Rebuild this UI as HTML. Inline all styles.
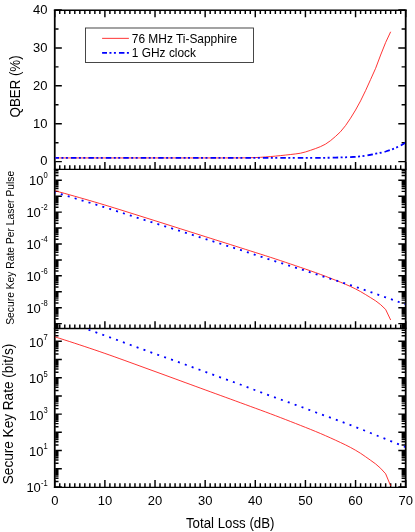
<!DOCTYPE html>
<html><head><meta charset="utf-8"><title>QKD key rate vs loss</title>
<style>
html,body{margin:0;padding:0;background:#fff;}
body{width:415px;height:532px;overflow:hidden;font-family:"Liberation Sans",sans-serif;}
svg{display:block;will-change:transform;}
</style></head><body>
<svg width="415" height="532" viewBox="0 0 415 532">
<path d="M54.75 10.60L54.75 17.15M59.76 10.60L59.76 13.90M64.78 10.60L64.78 13.90M69.79 10.60L69.79 13.90M74.80 10.60L74.80 13.90M79.82 10.60L79.82 13.90M84.83 10.60L84.83 13.90M89.84 10.60L89.84 13.90M94.86 10.60L94.86 13.90M99.87 10.60L99.87 13.90M104.89 10.60L104.89 17.15M109.90 10.60L109.90 13.90M114.91 10.60L114.91 13.90M119.93 10.60L119.93 13.90M124.94 10.60L124.94 13.90M129.95 10.60L129.95 13.90M134.97 10.60L134.97 13.90M139.98 10.60L139.98 13.90M144.99 10.60L144.99 13.90M150.01 10.60L150.01 13.90M155.02 10.60L155.02 17.15M160.04 10.60L160.04 13.90M165.05 10.60L165.05 13.90M170.06 10.60L170.06 13.90M175.08 10.60L175.08 13.90M180.09 10.60L180.09 13.90M185.10 10.60L185.10 13.90M190.12 10.60L190.12 13.90M195.13 10.60L195.13 13.90M200.14 10.60L200.14 13.90M205.16 10.60L205.16 17.15M210.17 10.60L210.17 13.90M215.18 10.60L215.18 13.90M220.20 10.60L220.20 13.90M225.21 10.60L225.21 13.90M230.22 10.60L230.22 13.90M235.24 10.60L235.24 13.90M240.25 10.60L240.25 13.90M245.27 10.60L245.27 13.90M250.28 10.60L250.28 13.90M255.29 10.60L255.29 17.15M260.31 10.60L260.31 13.90M265.32 10.60L265.32 13.90M270.33 10.60L270.33 13.90M275.35 10.60L275.35 13.90M280.36 10.60L280.36 13.90M285.37 10.60L285.37 13.90M290.39 10.60L290.39 13.90M295.40 10.60L295.40 13.90M300.42 10.60L300.42 13.90M305.43 10.60L305.43 17.15M310.44 10.60L310.44 13.90M315.46 10.60L315.46 13.90M320.47 10.60L320.47 13.90M325.48 10.60L325.48 13.90M330.50 10.60L330.50 13.90M335.51 10.60L335.51 13.90M340.52 10.60L340.52 13.90M345.54 10.60L345.54 13.90M350.55 10.60L350.55 13.90M355.56 10.60L355.56 17.15M360.58 10.60L360.58 13.90M365.59 10.60L365.59 13.90M370.61 10.60L370.61 13.90M375.62 10.60L375.62 13.90M380.63 10.60L380.63 13.90M385.65 10.60L385.65 13.90M390.66 10.60L390.66 13.90M395.67 10.60L395.67 13.90M400.69 10.60L400.69 13.90M405.70 10.60L405.70 17.15M54.75 169.10L54.75 162.10M59.76 169.10L59.76 165.30M64.78 169.10L64.78 165.30M69.79 169.10L69.79 165.30M74.80 169.10L74.80 165.30M79.82 169.10L79.82 165.30M84.83 169.10L84.83 165.30M89.84 169.10L89.84 165.30M94.86 169.10L94.86 165.30M99.87 169.10L99.87 165.30M104.89 169.10L104.89 162.10M109.90 169.10L109.90 165.30M114.91 169.10L114.91 165.30M119.93 169.10L119.93 165.30M124.94 169.10L124.94 165.30M129.95 169.10L129.95 165.30M134.97 169.10L134.97 165.30M139.98 169.10L139.98 165.30M144.99 169.10L144.99 165.30M150.01 169.10L150.01 165.30M155.02 169.10L155.02 162.10M160.04 169.10L160.04 165.30M165.05 169.10L165.05 165.30M170.06 169.10L170.06 165.30M175.08 169.10L175.08 165.30M180.09 169.10L180.09 165.30M185.10 169.10L185.10 165.30M190.12 169.10L190.12 165.30M195.13 169.10L195.13 165.30M200.14 169.10L200.14 165.30M205.16 169.10L205.16 162.10M210.17 169.10L210.17 165.30M215.18 169.10L215.18 165.30M220.20 169.10L220.20 165.30M225.21 169.10L225.21 165.30M230.22 169.10L230.22 165.30M235.24 169.10L235.24 165.30M240.25 169.10L240.25 165.30M245.27 169.10L245.27 165.30M250.28 169.10L250.28 165.30M255.29 169.10L255.29 162.10M260.31 169.10L260.31 165.30M265.32 169.10L265.32 165.30M270.33 169.10L270.33 165.30M275.35 169.10L275.35 165.30M280.36 169.10L280.36 165.30M285.37 169.10L285.37 165.30M290.39 169.10L290.39 165.30M295.40 169.10L295.40 165.30M300.42 169.10L300.42 165.30M305.43 169.10L305.43 162.10M310.44 169.10L310.44 165.30M315.46 169.10L315.46 165.30M320.47 169.10L320.47 165.30M325.48 169.10L325.48 165.30M330.50 169.10L330.50 165.30M335.51 169.10L335.51 165.30M340.52 169.10L340.52 165.30M345.54 169.10L345.54 165.30M350.55 169.10L350.55 165.30M355.56 169.10L355.56 162.10M360.58 169.10L360.58 165.30M365.59 169.10L365.59 165.30M370.61 169.10L370.61 165.30M375.62 169.10L375.62 165.30M380.63 169.10L380.63 165.30M385.65 169.10L385.65 165.30M390.66 169.10L390.66 165.30M395.67 169.10L395.67 165.30M400.69 169.10L400.69 165.30M405.70 169.10L405.70 162.10M54.75 328.20L54.75 321.20M59.76 328.20L59.76 324.40M64.78 328.20L64.78 324.40M69.79 328.20L69.79 324.40M74.80 328.20L74.80 324.40M79.82 328.20L79.82 324.40M84.83 328.20L84.83 324.40M89.84 328.20L89.84 324.40M94.86 328.20L94.86 324.40M99.87 328.20L99.87 324.40M104.89 328.20L104.89 321.20M109.90 328.20L109.90 324.40M114.91 328.20L114.91 324.40M119.93 328.20L119.93 324.40M124.94 328.20L124.94 324.40M129.95 328.20L129.95 324.40M134.97 328.20L134.97 324.40M139.98 328.20L139.98 324.40M144.99 328.20L144.99 324.40M150.01 328.20L150.01 324.40M155.02 328.20L155.02 321.20M160.04 328.20L160.04 324.40M165.05 328.20L165.05 324.40M170.06 328.20L170.06 324.40M175.08 328.20L175.08 324.40M180.09 328.20L180.09 324.40M185.10 328.20L185.10 324.40M190.12 328.20L190.12 324.40M195.13 328.20L195.13 324.40M200.14 328.20L200.14 324.40M205.16 328.20L205.16 321.20M210.17 328.20L210.17 324.40M215.18 328.20L215.18 324.40M220.20 328.20L220.20 324.40M225.21 328.20L225.21 324.40M230.22 328.20L230.22 324.40M235.24 328.20L235.24 324.40M240.25 328.20L240.25 324.40M245.27 328.20L245.27 324.40M250.28 328.20L250.28 324.40M255.29 328.20L255.29 321.20M260.31 328.20L260.31 324.40M265.32 328.20L265.32 324.40M270.33 328.20L270.33 324.40M275.35 328.20L275.35 324.40M280.36 328.20L280.36 324.40M285.37 328.20L285.37 324.40M290.39 328.20L290.39 324.40M295.40 328.20L295.40 324.40M300.42 328.20L300.42 324.40M305.43 328.20L305.43 321.20M310.44 328.20L310.44 324.40M315.46 328.20L315.46 324.40M320.47 328.20L320.47 324.40M325.48 328.20L325.48 324.40M330.50 328.20L330.50 324.40M335.51 328.20L335.51 324.40M340.52 328.20L340.52 324.40M345.54 328.20L345.54 324.40M350.55 328.20L350.55 324.40M355.56 328.20L355.56 321.20M360.58 328.20L360.58 324.40M365.59 328.20L365.59 324.40M370.61 328.20L370.61 324.40M375.62 328.20L375.62 324.40M380.63 328.20L380.63 324.40M385.65 328.20L385.65 324.40M390.66 328.20L390.66 324.40M395.67 328.20L395.67 324.40M400.69 328.20L400.69 324.40M405.70 328.20L405.70 321.20M54.75 487.10L54.75 480.10M59.76 487.10L59.76 483.30M64.78 487.10L64.78 483.30M69.79 487.10L69.79 483.30M74.80 487.10L74.80 483.30M79.82 487.10L79.82 483.30M84.83 487.10L84.83 483.30M89.84 487.10L89.84 483.30M94.86 487.10L94.86 483.30M99.87 487.10L99.87 483.30M104.89 487.10L104.89 480.10M109.90 487.10L109.90 483.30M114.91 487.10L114.91 483.30M119.93 487.10L119.93 483.30M124.94 487.10L124.94 483.30M129.95 487.10L129.95 483.30M134.97 487.10L134.97 483.30M139.98 487.10L139.98 483.30M144.99 487.10L144.99 483.30M150.01 487.10L150.01 483.30M155.02 487.10L155.02 480.10M160.04 487.10L160.04 483.30M165.05 487.10L165.05 483.30M170.06 487.10L170.06 483.30M175.08 487.10L175.08 483.30M180.09 487.10L180.09 483.30M185.10 487.10L185.10 483.30M190.12 487.10L190.12 483.30M195.13 487.10L195.13 483.30M200.14 487.10L200.14 483.30M205.16 487.10L205.16 480.10M210.17 487.10L210.17 483.30M215.18 487.10L215.18 483.30M220.20 487.10L220.20 483.30M225.21 487.10L225.21 483.30M230.22 487.10L230.22 483.30M235.24 487.10L235.24 483.30M240.25 487.10L240.25 483.30M245.27 487.10L245.27 483.30M250.28 487.10L250.28 483.30M255.29 487.10L255.29 480.10M260.31 487.10L260.31 483.30M265.32 487.10L265.32 483.30M270.33 487.10L270.33 483.30M275.35 487.10L275.35 483.30M280.36 487.10L280.36 483.30M285.37 487.10L285.37 483.30M290.39 487.10L290.39 483.30M295.40 487.10L295.40 483.30M300.42 487.10L300.42 483.30M305.43 487.10L305.43 480.10M310.44 487.10L310.44 483.30M315.46 487.10L315.46 483.30M320.47 487.10L320.47 483.30M325.48 487.10L325.48 483.30M330.50 487.10L330.50 483.30M335.51 487.10L335.51 483.30M340.52 487.10L340.52 483.30M345.54 487.10L345.54 483.30M350.55 487.10L350.55 483.30M355.56 487.10L355.56 480.10M360.58 487.10L360.58 483.30M365.59 487.10L365.59 483.30M370.61 487.10L370.61 483.30M375.62 487.10L375.62 483.30M380.63 487.10L380.63 483.30M385.65 487.10L385.65 483.30M390.66 487.10L390.66 483.30M395.67 487.10L395.67 483.30M400.69 487.10L400.69 483.30M405.70 487.10L405.70 480.10M55.23 161.62L61.83 161.62M405.20 161.62L398.30 161.62M55.23 142.67L58.52 142.67M405.20 142.67L401.60 142.67M55.23 123.72L61.83 123.72M405.20 123.72L398.30 123.72M55.23 104.77L58.52 104.77M405.20 104.77L401.60 104.77M55.23 85.82L61.83 85.82M405.20 85.82L398.30 85.82M55.23 66.87L58.52 66.87M405.20 66.87L401.60 66.87M55.23 47.92L61.83 47.92M405.20 47.92L398.30 47.92M55.23 28.97L58.52 28.97M405.20 28.97L401.60 28.97M55.23 10.02L61.83 10.02M405.20 10.02L398.30 10.02M55.23 327.16L58.52 327.16M405.20 327.16L401.60 327.16M55.23 326.10L58.52 326.10M405.20 326.10L401.60 326.10M55.23 325.17L58.52 325.17M405.20 325.17L401.60 325.17M55.23 324.36L58.52 324.36M405.20 324.36L401.60 324.36M55.23 323.63L61.83 323.63M405.20 323.63L398.30 323.63M55.23 318.83L58.52 318.83M405.20 318.83L401.60 318.83M55.23 316.03L58.52 316.03M405.20 316.03L401.60 316.03M55.23 314.04L58.52 314.04M405.20 314.04L401.60 314.04M55.23 312.50L58.52 312.50M405.20 312.50L401.60 312.50M55.23 311.23L58.52 311.23M405.20 311.23L401.60 311.23M55.23 310.17L58.52 310.17M405.20 310.17L401.60 310.17M55.23 309.24L58.52 309.24M405.20 309.24L401.60 309.24M55.23 308.43L58.52 308.43M405.20 308.43L401.60 308.43M55.23 307.70L61.83 307.70M405.20 307.70L398.30 307.70M55.23 302.90L58.52 302.90M405.20 302.90L401.60 302.90M55.23 300.10L58.52 300.10M405.20 300.10L401.60 300.10M55.23 298.11L58.52 298.11M405.20 298.11L401.60 298.11M55.23 296.57L58.52 296.57M405.20 296.57L401.60 296.57M55.23 295.30L58.52 295.30M405.20 295.30L401.60 295.30M55.23 294.24L58.52 294.24M405.20 294.24L401.60 294.24M55.23 293.31L58.52 293.31M405.20 293.31L401.60 293.31M55.23 292.50L58.52 292.50M405.20 292.50L401.60 292.50M55.23 291.77L61.83 291.77M405.20 291.77L398.30 291.77M55.23 286.97L58.52 286.97M405.20 286.97L401.60 286.97M55.23 284.17L58.52 284.17M405.20 284.17L401.60 284.17M55.23 282.18L58.52 282.18M405.20 282.18L401.60 282.18M55.23 280.64L58.52 280.64M405.20 280.64L401.60 280.64M55.23 279.37L58.52 279.37M405.20 279.37L401.60 279.37M55.23 278.31L58.52 278.31M405.20 278.31L401.60 278.31M55.23 277.38L58.52 277.38M405.20 277.38L401.60 277.38M55.23 276.57L58.52 276.57M405.20 276.57L401.60 276.57M55.23 275.84L61.83 275.84M405.20 275.84L398.30 275.84M55.23 271.04L58.52 271.04M405.20 271.04L401.60 271.04M55.23 268.24L58.52 268.24M405.20 268.24L401.60 268.24M55.23 266.25L58.52 266.25M405.20 266.25L401.60 266.25M55.23 264.71L58.52 264.71M405.20 264.71L401.60 264.71M55.23 263.44L58.52 263.44M405.20 263.44L401.60 263.44M55.23 262.38L58.52 262.38M405.20 262.38L401.60 262.38M55.23 261.45L58.52 261.45M405.20 261.45L401.60 261.45M55.23 260.64L58.52 260.64M405.20 260.64L401.60 260.64M55.23 259.91L61.83 259.91M405.20 259.91L398.30 259.91M55.23 255.11L58.52 255.11M405.20 255.11L401.60 255.11M55.23 252.31L58.52 252.31M405.20 252.31L401.60 252.31M55.23 250.32L58.52 250.32M405.20 250.32L401.60 250.32M55.23 248.78L58.52 248.78M405.20 248.78L401.60 248.78M55.23 247.51L58.52 247.51M405.20 247.51L401.60 247.51M55.23 246.45L58.52 246.45M405.20 246.45L401.60 246.45M55.23 245.52L58.52 245.52M405.20 245.52L401.60 245.52M55.23 244.71L58.52 244.71M405.20 244.71L401.60 244.71M55.23 243.98L61.83 243.98M405.20 243.98L398.30 243.98M55.23 239.18L58.52 239.18M405.20 239.18L401.60 239.18M55.23 236.38L58.52 236.38M405.20 236.38L401.60 236.38M55.23 234.39L58.52 234.39M405.20 234.39L401.60 234.39M55.23 232.85L58.52 232.85M405.20 232.85L401.60 232.85M55.23 231.58L58.52 231.58M405.20 231.58L401.60 231.58M55.23 230.52L58.52 230.52M405.20 230.52L401.60 230.52M55.23 229.59L58.52 229.59M405.20 229.59L401.60 229.59M55.23 228.78L58.52 228.78M405.20 228.78L401.60 228.78M55.23 228.05L61.83 228.05M405.20 228.05L398.30 228.05M55.23 223.25L58.52 223.25M405.20 223.25L401.60 223.25M55.23 220.45L58.52 220.45M405.20 220.45L401.60 220.45M55.23 218.46L58.52 218.46M405.20 218.46L401.60 218.46M55.23 216.92L58.52 216.92M405.20 216.92L401.60 216.92M55.23 215.65L58.52 215.65M405.20 215.65L401.60 215.65M55.23 214.59L58.52 214.59M405.20 214.59L401.60 214.59M55.23 213.66L58.52 213.66M405.20 213.66L401.60 213.66M55.23 212.85L58.52 212.85M405.20 212.85L401.60 212.85M55.23 212.12L61.83 212.12M405.20 212.12L398.30 212.12M55.23 207.32L58.52 207.32M405.20 207.32L401.60 207.32M55.23 204.52L58.52 204.52M405.20 204.52L401.60 204.52M55.23 202.53L58.52 202.53M405.20 202.53L401.60 202.53M55.23 200.99L58.52 200.99M405.20 200.99L401.60 200.99M55.23 199.72L58.52 199.72M405.20 199.72L401.60 199.72M55.23 198.66L58.52 198.66M405.20 198.66L401.60 198.66M55.23 197.73L58.52 197.73M405.20 197.73L401.60 197.73M55.23 196.92L58.52 196.92M405.20 196.92L401.60 196.92M55.23 196.19L61.83 196.19M405.20 196.19L398.30 196.19M55.23 191.39L58.52 191.39M405.20 191.39L401.60 191.39M55.23 188.59L58.52 188.59M405.20 188.59L401.60 188.59M55.23 186.60L58.52 186.60M405.20 186.60L401.60 186.60M55.23 185.06L58.52 185.06M405.20 185.06L401.60 185.06M55.23 183.79L58.52 183.79M405.20 183.79L401.60 183.79M55.23 182.73L58.52 182.73M405.20 182.73L401.60 182.73M55.23 181.80L58.52 181.80M405.20 181.80L401.60 181.80M55.23 180.99L58.52 180.99M405.20 180.99L401.60 180.99M55.23 180.26L61.83 180.26M405.20 180.26L398.30 180.26M55.23 175.46L58.52 175.46M405.20 175.46L401.60 175.46M55.23 172.66L58.52 172.66M405.20 172.66L401.60 172.66M55.23 170.67L58.52 170.67M405.20 170.67L401.60 170.67M55.23 486.90L61.83 486.90M405.20 486.90L398.30 486.90M55.23 481.42L58.52 481.42M405.20 481.42L401.60 481.42M55.23 478.22L58.52 478.22M405.20 478.22L401.60 478.22M55.23 475.94L58.52 475.94M405.20 475.94L401.60 475.94M55.23 474.18L58.52 474.18M405.20 474.18L401.60 474.18M55.23 472.74L58.52 472.74M405.20 472.74L401.60 472.74M55.23 471.52L58.52 471.52M405.20 471.52L401.60 471.52M55.23 470.46L58.52 470.46M405.20 470.46L401.60 470.46M55.23 469.53L58.52 469.53M405.20 469.53L401.60 469.53M55.23 468.70L61.83 468.70M405.20 468.70L398.30 468.70M55.23 463.22L58.52 463.22M405.20 463.22L401.60 463.22M55.23 460.02L58.52 460.02M405.20 460.02L401.60 460.02M55.23 457.74L58.52 457.74M405.20 457.74L401.60 457.74M55.23 455.98L58.52 455.98M405.20 455.98L401.60 455.98M55.23 454.54L58.52 454.54M405.20 454.54L401.60 454.54M55.23 453.32L58.52 453.32M405.20 453.32L401.60 453.32M55.23 452.26L58.52 452.26M405.20 452.26L401.60 452.26M55.23 451.33L58.52 451.33M405.20 451.33L401.60 451.33M55.23 450.50L61.83 450.50M405.20 450.50L398.30 450.50M55.23 445.02L58.52 445.02M405.20 445.02L401.60 445.02M55.23 441.82L58.52 441.82M405.20 441.82L401.60 441.82M55.23 439.54L58.52 439.54M405.20 439.54L401.60 439.54M55.23 437.78L58.52 437.78M405.20 437.78L401.60 437.78M55.23 436.34L58.52 436.34M405.20 436.34L401.60 436.34M55.23 435.12L58.52 435.12M405.20 435.12L401.60 435.12M55.23 434.06L58.52 434.06M405.20 434.06L401.60 434.06M55.23 433.13L58.52 433.13M405.20 433.13L401.60 433.13M55.23 432.30L61.83 432.30M405.20 432.30L398.30 432.30M55.23 426.82L58.52 426.82M405.20 426.82L401.60 426.82M55.23 423.62L58.52 423.62M405.20 423.62L401.60 423.62M55.23 421.34L58.52 421.34M405.20 421.34L401.60 421.34M55.23 419.58L58.52 419.58M405.20 419.58L401.60 419.58M55.23 418.14L58.52 418.14M405.20 418.14L401.60 418.14M55.23 416.92L58.52 416.92M405.20 416.92L401.60 416.92M55.23 415.86L58.52 415.86M405.20 415.86L401.60 415.86M55.23 414.93L58.52 414.93M405.20 414.93L401.60 414.93M55.23 414.10L61.83 414.10M405.20 414.10L398.30 414.10M55.23 408.62L58.52 408.62M405.20 408.62L401.60 408.62M55.23 405.42L58.52 405.42M405.20 405.42L401.60 405.42M55.23 403.14L58.52 403.14M405.20 403.14L401.60 403.14M55.23 401.38L58.52 401.38M405.20 401.38L401.60 401.38M55.23 399.94L58.52 399.94M405.20 399.94L401.60 399.94M55.23 398.72L58.52 398.72M405.20 398.72L401.60 398.72M55.23 397.66L58.52 397.66M405.20 397.66L401.60 397.66M55.23 396.73L58.52 396.73M405.20 396.73L401.60 396.73M55.23 395.90L61.83 395.90M405.20 395.90L398.30 395.90M55.23 390.42L58.52 390.42M405.20 390.42L401.60 390.42M55.23 387.22L58.52 387.22M405.20 387.22L401.60 387.22M55.23 384.94L58.52 384.94M405.20 384.94L401.60 384.94M55.23 383.18L58.52 383.18M405.20 383.18L401.60 383.18M55.23 381.74L58.52 381.74M405.20 381.74L401.60 381.74M55.23 380.52L58.52 380.52M405.20 380.52L401.60 380.52M55.23 379.46L58.52 379.46M405.20 379.46L401.60 379.46M55.23 378.53L58.52 378.53M405.20 378.53L401.60 378.53M55.23 377.70L61.83 377.70M405.20 377.70L398.30 377.70M55.23 372.22L58.52 372.22M405.20 372.22L401.60 372.22M55.23 369.02L58.52 369.02M405.20 369.02L401.60 369.02M55.23 366.74L58.52 366.74M405.20 366.74L401.60 366.74M55.23 364.98L58.52 364.98M405.20 364.98L401.60 364.98M55.23 363.54L58.52 363.54M405.20 363.54L401.60 363.54M55.23 362.32L58.52 362.32M405.20 362.32L401.60 362.32M55.23 361.26L58.52 361.26M405.20 361.26L401.60 361.26M55.23 360.33L58.52 360.33M405.20 360.33L401.60 360.33M55.23 359.50L61.83 359.50M405.20 359.50L398.30 359.50M55.23 354.02L58.52 354.02M405.20 354.02L401.60 354.02M55.23 350.82L58.52 350.82M405.20 350.82L401.60 350.82M55.23 348.54L58.52 348.54M405.20 348.54L401.60 348.54M55.23 346.78L58.52 346.78M405.20 346.78L401.60 346.78M55.23 345.34L58.52 345.34M405.20 345.34L401.60 345.34M55.23 344.12L58.52 344.12M405.20 344.12L401.60 344.12M55.23 343.06L58.52 343.06M405.20 343.06L401.60 343.06M55.23 342.13L58.52 342.13M405.20 342.13L401.60 342.13M55.23 341.30L61.83 341.30M405.20 341.30L398.30 341.30M55.23 335.82L58.52 335.82M405.20 335.82L401.60 335.82M55.23 332.62L58.52 332.62M405.20 332.62L401.60 332.62M55.23 330.34L58.52 330.34M405.20 330.34L401.60 330.34" stroke="#000" stroke-width="1.45" fill="none"/>
<line x1="53.88" y1="10.25" x2="406.60" y2="10.25" stroke="#000" stroke-width="1.5" />
<line x1="53.88" y1="169.35" x2="406.60" y2="169.35" stroke="#000" stroke-width="1.3" />
<line x1="53.88" y1="328.50" x2="406.60" y2="328.50" stroke="#000" stroke-width="1.4" />
<line x1="53.88" y1="487.40" x2="406.60" y2="487.40" stroke="#000" stroke-width="1.4" />
<line x1="54.75" y1="9.50" x2="54.75" y2="488.10" stroke="#000" stroke-width="1.75" />
<line x1="405.70" y1="9.50" x2="405.70" y2="488.10" stroke="#000" stroke-width="1.8" />
<clipPath id="c1"><rect x="55.33" y="10.25" width="349.78" height="159.10"/></clipPath>
<clipPath id="c2"><rect x="55.33" y="169.35" width="349.78" height="159.15"/></clipPath>
<clipPath id="c3"><rect x="55.33" y="329.20" width="349.78" height="158.20"/></clipPath>
<path d="M54.75,190.70 L59.76,192.07 L64.78,193.45 L69.79,194.85 L74.80,196.27 L79.82,197.69 L84.83,199.13 L89.84,200.59 L94.86,202.06 L99.87,203.54 L104.89,205.04 L109.90,206.57 L114.91,208.11 L119.93,209.67 L124.94,211.24 L129.95,212.82 L134.97,214.40 L139.98,215.98 L144.99,217.56 L150.01,219.14 L155.02,220.72 L160.04,222.30 L165.05,223.88 L170.06,225.47 L175.08,227.06 L180.09,228.65 L185.10,230.24 L190.12,231.83 L195.13,233.42 L200.14,235.01 L205.16,236.60 L210.17,238.18 L215.18,239.77 L220.20,241.35 L225.21,242.94 L230.22,244.52 L235.24,246.11 L240.25,247.70 L245.27,249.29 L250.28,250.88 L255.29,252.47 L260.31,254.06 L265.32,255.66 L270.33,257.28 L275.35,258.92 L280.36,260.58 L285.37,262.26 L290.39,263.94 L295.40,265.65 L300.42,267.36 L305.43,269.07 L310.44,270.81 L315.46,272.58 L320.47,274.41 L325.48,276.29 L330.50,278.22 L335.51,280.20 L340.52,282.22 L345.54,284.30 L350.55,286.52 L355.56,288.94 L360.58,291.60 L365.59,294.58 L370.61,297.68 L375.62,300.82 L380.63,304.66 L385.65,309.46 L390.66,320.00" fill="none" stroke="#ff0000" stroke-width="0.8" clip-path="url(#c2)"/>
<path d="M54.75,192.40 L59.76,193.84 L64.78,195.30 L69.79,196.77 L74.80,198.25 L79.82,199.74 L84.83,201.24 L89.84,202.75 L94.86,204.28 L99.87,205.82 L104.89,207.38 L109.90,208.97 L114.91,210.56 L119.93,212.17 L124.94,213.78 L129.95,215.38 L134.97,216.99 L139.98,218.58 L144.99,220.15 L150.01,221.72 L155.02,223.26 L160.04,224.81 L165.05,226.35 L170.06,227.89 L175.08,229.43 L180.09,230.98 L185.10,232.54 L190.12,234.12 L195.13,235.71 L200.14,237.31 L205.16,238.91 L210.17,240.50 L215.18,242.09 L220.20,243.66 L225.21,245.21 L230.22,246.77 L235.24,248.34 L240.25,249.92 L245.27,251.54 L250.28,253.20 L255.29,254.90 L260.31,256.53 L265.32,258.13 L270.33,259.72 L275.35,261.29 L280.36,262.85 L285.37,264.41 L290.39,265.97 L295.40,267.54 L300.42,269.13 L305.43,270.75 L310.44,272.38 L315.46,274.03 L320.47,275.65 L325.48,277.24 L330.50,278.78 L335.51,280.33 L340.52,281.92 L345.54,283.54 L350.55,285.18 L355.56,286.85 L360.58,288.55 L365.59,290.30 L370.61,292.06 L375.62,293.82 L380.63,295.57 L385.65,297.33 L390.66,299.09 L395.67,300.86 L400.69,302.63 L405.70,304.40" fill="none" stroke="#0000ff" stroke-width="1.8" stroke-dasharray="2.0 5.218" stroke-dashoffset="0.9" clip-path="url(#c2)"/>
<path d="M54.75,336.82 L59.76,338.40 L64.78,340.00 L69.79,341.62 L74.80,343.26 L79.82,344.91 L84.83,346.57 L89.84,348.25 L94.86,349.95 L99.87,351.67 L104.89,353.40 L109.90,355.17 L114.91,356.95 L119.93,358.75 L124.94,360.56 L129.95,362.39 L134.97,364.21 L139.98,366.04 L144.99,367.87 L150.01,369.69 L155.02,371.51 L160.04,373.34 L165.05,375.17 L170.06,377.00 L175.08,378.84 L180.09,380.68 L185.10,382.52 L190.12,384.35 L195.13,386.19 L200.14,388.02 L205.16,389.86 L210.17,391.69 L215.18,393.52 L220.20,395.35 L225.21,397.18 L230.22,399.01 L235.24,400.84 L240.25,402.68 L245.27,404.51 L250.28,406.35 L255.29,408.19 L260.31,410.02 L265.32,411.87 L270.33,413.74 L275.35,415.64 L280.36,417.56 L285.37,419.49 L290.39,421.44 L295.40,423.40 L300.42,425.38 L305.43,427.36 L310.44,429.36 L315.46,431.41 L320.47,433.51 L325.48,435.68 L330.50,437.91 L335.51,440.20 L340.52,442.52 L345.54,444.92 L350.55,447.48 L355.56,450.26 L360.58,453.32 L365.59,456.74 L370.61,460.30 L375.62,463.91 L380.63,468.32 L385.65,473.82 L390.66,485.88" fill="none" stroke="#ff0000" stroke-width="0.8" clip-path="url(#c3)"/>
<path d="M54.75,318.25 L59.76,319.92 L64.78,321.59 L69.79,323.28 L74.80,324.99 L79.82,326.70 L84.83,328.43 L89.84,330.18 L94.86,331.93 L99.87,333.71 L104.89,335.51 L109.90,337.33 L114.91,339.17 L119.93,341.02 L124.94,342.87 L129.95,344.72 L134.97,346.57 L139.98,348.40 L144.99,350.21 L150.01,352.01 L155.02,353.79 L160.04,355.57 L165.05,357.34 L170.06,359.12 L175.08,360.89 L180.09,362.68 L185.10,364.48 L190.12,366.30 L195.13,368.13 L200.14,369.97 L205.16,371.81 L210.17,373.64 L215.18,375.47 L220.20,377.28 L225.21,379.07 L230.22,380.86 L235.24,382.66 L240.25,384.49 L245.27,386.35 L250.28,388.27 L255.29,390.22 L260.31,392.09 L265.32,393.94 L270.33,395.77 L275.35,397.57 L280.36,399.37 L285.37,401.17 L290.39,402.97 L295.40,404.78 L300.42,406.61 L305.43,408.46 L310.44,410.35 L315.46,412.24 L320.47,414.11 L325.48,415.94 L330.50,417.71 L335.51,419.50 L340.52,421.33 L345.54,423.19 L350.55,425.08 L355.56,427.00 L360.58,428.96 L365.59,430.97 L370.61,433.00 L375.62,435.02 L380.63,437.04 L385.65,439.06 L390.66,441.09 L395.67,443.12 L400.69,445.15 L405.70,447.19" fill="none" stroke="#0000ff" stroke-width="1.8" stroke-dasharray="2.0 5.31" stroke-dashoffset="0.9" clip-path="url(#c3)"/>
<path d="M54.75,157.95 L59.76,157.95 L64.78,157.95 L69.79,157.95 L74.80,157.95 L79.82,157.95 L84.83,157.95 L89.84,157.95 L94.86,157.95 L99.87,157.95 L104.89,157.95 L109.90,157.95 L114.91,157.95 L119.93,157.95 L124.94,157.95 L129.95,157.95 L134.97,157.95 L139.98,157.95 L144.99,157.95 L150.01,157.95 L155.02,157.95 L160.04,157.95 L165.05,157.95 L170.06,157.95 L175.08,157.95 L180.09,157.95 L185.10,157.95 L190.12,157.95 L195.13,157.95 L200.14,157.95 L205.16,157.95 L210.17,157.95 L215.18,157.94 L220.20,157.94 L225.21,157.93 L230.22,157.92 L235.24,157.91 L240.25,157.90 L245.27,157.84 L250.28,157.73 L255.29,157.57 L260.31,157.32 L265.32,156.97 L270.33,156.59 L275.35,156.13 L280.36,155.61 L285.37,155.09 L290.39,154.52 L295.40,153.95 L300.42,153.22 L305.43,151.96 L310.44,150.33 L315.46,148.58 L320.47,146.63 L325.48,144.15 L330.50,140.66 L335.51,136.43 L340.52,131.71 L345.54,125.58 L350.55,118.20 L355.56,110.03 L360.58,100.87 L365.59,90.58 L370.61,79.46 L375.62,68.33 L380.63,55.02 L385.65,42.49 L390.66,31.77" fill="none" stroke="#ff0000" stroke-width="0.8" clip-path="url(#c1)"/>
<path d="M54.75,157.95 L59.76,157.95 L64.78,157.95 L69.79,157.95 L74.80,157.95 L79.82,157.95 L84.83,157.95 L89.84,157.95 L94.86,157.95 L99.87,157.95 L104.89,157.95 L109.90,157.95 L114.91,157.95 L119.93,157.95 L124.94,157.95 L129.95,157.95 L134.97,157.95 L139.98,157.95 L144.99,157.95 L150.01,157.95 L155.02,157.95 L160.04,157.95 L165.05,157.95 L170.06,157.95 L175.08,157.95 L180.09,157.95 L185.10,157.95 L190.12,157.95 L195.13,157.95 L200.14,157.95 L205.16,157.95 L210.17,157.95 L215.18,157.95 L220.20,157.95 L225.21,157.95 L230.22,157.95 L235.24,157.95 L240.25,157.95 L245.27,157.95 L250.28,157.95 L255.29,157.95 L260.31,157.95 L265.32,157.95 L270.33,157.95 L275.35,157.95 L280.36,157.95 L285.37,157.95 L290.39,157.95 L295.40,157.95 L300.42,157.95 L305.43,157.94 L310.44,157.92 L315.46,157.89 L320.47,157.84 L325.48,157.79 L330.50,157.72 L335.51,157.60 L340.52,157.45 L345.54,157.28 L350.55,157.06 L355.56,156.75 L360.58,156.30 L365.59,155.63 L370.61,154.75 L375.62,153.73 L380.63,152.75 L385.65,151.50 L390.66,149.84 L395.67,147.91 L400.69,145.50 L405.70,142.60" fill="none" stroke="#0000ff" stroke-width="1.8" stroke-dasharray="5.5 2.45 2 2.45 2 3.05" stroke-dashoffset="1.27" clip-path="url(#c1)"/>
<rect x="85.5" y="28.0" width="168" height="34.5" fill="#fff" stroke="#333" stroke-width="0.9"/>
<line x1="102.10" y1="38.35" x2="128.90" y2="38.35" stroke="#ff0000" stroke-width="0.8" />
<line x1="102.10" y1="52.90" x2="128.90" y2="52.90" stroke="#0000ff" stroke-width="1.8" stroke-dasharray="5.5 2.45 2 2.45 2 3.05" stroke-dashoffset="0.6"/>
<text transform="translate(131.80,42.60) scale(1,1.04)" font-size="11.92" text-anchor="start" font-family="Liberation Sans, sans-serif" fill="#000" >76 MHz Ti-Sapphire</text>
<text transform="translate(131.80,57.20) scale(1,1.04)" font-size="11.92" text-anchor="start" font-family="Liberation Sans, sans-serif" fill="#000" >1 GHz clock</text>
<text transform="translate(47.40,165.42) scale(1,1.04)" font-size="13" text-anchor="end" font-family="Liberation Sans, sans-serif" fill="#000" >0</text>
<text transform="translate(47.40,127.52) scale(1,1.04)" font-size="13" text-anchor="end" font-family="Liberation Sans, sans-serif" fill="#000" >10</text>
<text transform="translate(47.40,89.62) scale(1,1.04)" font-size="13" text-anchor="end" font-family="Liberation Sans, sans-serif" fill="#000" >20</text>
<text transform="translate(47.40,51.72) scale(1,1.04)" font-size="13" text-anchor="end" font-family="Liberation Sans, sans-serif" fill="#000" >30</text>
<text transform="translate(47.40,13.82) scale(1,1.04)" font-size="13" text-anchor="end" font-family="Liberation Sans, sans-serif" fill="#000" >40</text>
<text transform="translate(43.37,185.16) scale(1,1.04)" font-size="13" text-anchor="end" font-family="Liberation Sans, sans-serif" fill="#000">10</text>
<text transform="translate(47.80,178.46) scale(1,1.25)" font-size="7.6" text-anchor="end" font-family="Liberation Sans, sans-serif" fill="#000">0</text>
<text transform="translate(40.84,217.02) scale(1,1.04)" font-size="13" text-anchor="end" font-family="Liberation Sans, sans-serif" fill="#000">10</text>
<text transform="translate(47.80,210.32) scale(1,1.25)" font-size="7.6" text-anchor="end" font-family="Liberation Sans, sans-serif" fill="#000">-2</text>
<text transform="translate(40.84,248.88) scale(1,1.04)" font-size="13" text-anchor="end" font-family="Liberation Sans, sans-serif" fill="#000">10</text>
<text transform="translate(47.80,242.18) scale(1,1.25)" font-size="7.6" text-anchor="end" font-family="Liberation Sans, sans-serif" fill="#000">-4</text>
<text transform="translate(40.84,280.74) scale(1,1.04)" font-size="13" text-anchor="end" font-family="Liberation Sans, sans-serif" fill="#000">10</text>
<text transform="translate(47.80,274.04) scale(1,1.25)" font-size="7.6" text-anchor="end" font-family="Liberation Sans, sans-serif" fill="#000">-6</text>
<text transform="translate(40.84,312.60) scale(1,1.04)" font-size="13" text-anchor="end" font-family="Liberation Sans, sans-serif" fill="#000">10</text>
<text transform="translate(47.80,305.90) scale(1,1.25)" font-size="7.6" text-anchor="end" font-family="Liberation Sans, sans-serif" fill="#000">-8</text>
<text transform="translate(43.37,346.80) scale(1,1.04)" font-size="13" text-anchor="end" font-family="Liberation Sans, sans-serif" fill="#000">10</text>
<text transform="translate(47.80,340.10) scale(1,1.25)" font-size="7.6" text-anchor="end" font-family="Liberation Sans, sans-serif" fill="#000">7</text>
<text transform="translate(43.37,383.20) scale(1,1.04)" font-size="13" text-anchor="end" font-family="Liberation Sans, sans-serif" fill="#000">10</text>
<text transform="translate(47.80,376.50) scale(1,1.25)" font-size="7.6" text-anchor="end" font-family="Liberation Sans, sans-serif" fill="#000">5</text>
<text transform="translate(43.37,419.60) scale(1,1.04)" font-size="13" text-anchor="end" font-family="Liberation Sans, sans-serif" fill="#000">10</text>
<text transform="translate(47.80,412.90) scale(1,1.25)" font-size="7.6" text-anchor="end" font-family="Liberation Sans, sans-serif" fill="#000">3</text>
<text transform="translate(43.37,456.00) scale(1,1.04)" font-size="13" text-anchor="end" font-family="Liberation Sans, sans-serif" fill="#000">10</text>
<text transform="translate(47.80,449.30) scale(1,1.25)" font-size="7.6" text-anchor="end" font-family="Liberation Sans, sans-serif" fill="#000">1</text>
<text transform="translate(40.84,492.40) scale(1,1.04)" font-size="13" text-anchor="end" font-family="Liberation Sans, sans-serif" fill="#000">10</text>
<text transform="translate(47.80,485.70) scale(1,1.25)" font-size="7.6" text-anchor="end" font-family="Liberation Sans, sans-serif" fill="#000">-1</text>
<text transform="translate(54.75,505.20) scale(1,1.04)" font-size="13" text-anchor="middle" font-family="Liberation Sans, sans-serif" fill="#000" >0</text>
<text transform="translate(104.89,505.20) scale(1,1.04)" font-size="13" text-anchor="middle" font-family="Liberation Sans, sans-serif" fill="#000" >10</text>
<text transform="translate(155.02,505.20) scale(1,1.04)" font-size="13" text-anchor="middle" font-family="Liberation Sans, sans-serif" fill="#000" >20</text>
<text transform="translate(205.16,505.20) scale(1,1.04)" font-size="13" text-anchor="middle" font-family="Liberation Sans, sans-serif" fill="#000" >30</text>
<text transform="translate(255.29,505.20) scale(1,1.04)" font-size="13" text-anchor="middle" font-family="Liberation Sans, sans-serif" fill="#000" >40</text>
<text transform="translate(305.43,505.20) scale(1,1.04)" font-size="13" text-anchor="middle" font-family="Liberation Sans, sans-serif" fill="#000" >50</text>
<text transform="translate(355.56,505.20) scale(1,1.04)" font-size="13" text-anchor="middle" font-family="Liberation Sans, sans-serif" fill="#000" >60</text>
<text transform="translate(405.70,505.20) scale(1,1.04)" font-size="13" text-anchor="middle" font-family="Liberation Sans, sans-serif" fill="#000" >70</text>
<text transform="translate(230.22,527.60) scale(1,1.04)" font-size="13.3" text-anchor="middle" font-family="Liberation Sans, sans-serif" fill="#000" >Total Loss (dB)</text>
<text transform="translate(20.30,86.40) rotate(-90) scale(1,1.04)" font-size="13.3" text-anchor="middle" font-family="Liberation Sans, sans-serif" fill="#000">QBER (%)</text>
<text transform="translate(14.40,247.80) rotate(-90) scale(1,1.04)" font-size="10.3" text-anchor="middle" font-family="Liberation Sans, sans-serif" fill="#000">Secure Key Rate Per Laser Pulse</text>
<text transform="translate(13.00,414.00) rotate(-90) scale(1,1.04)" font-size="13.6" text-anchor="middle" font-family="Liberation Sans, sans-serif" fill="#000">Secure Key Rate (bit/s)</text>
</svg>
</body></html>
